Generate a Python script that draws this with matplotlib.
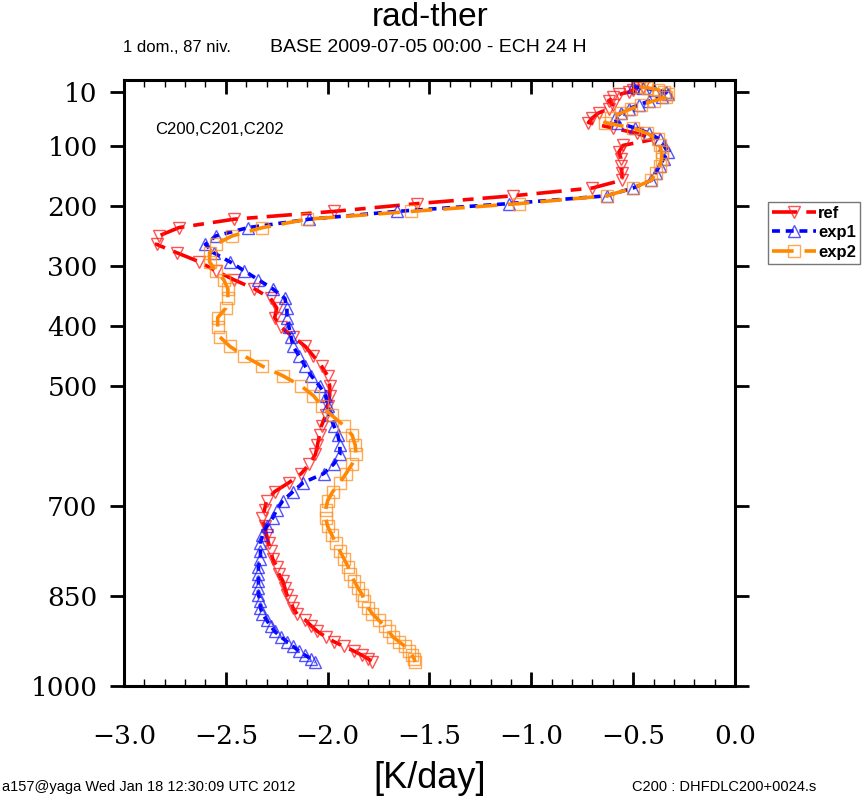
import matplotlib
matplotlib.use("Agg")
import matplotlib.pyplot as plt
from matplotlib.ticker import MultipleLocator, FixedLocator

# ---- data -------------------------------------------------------------
pressure = [1, 3, 6, 10, 14, 19, 25, 31, 38, 45, 53, 61, 70, 79, 89, 99,
            110, 121, 133, 145, 157, 170, 183, 196, 209, 222, 236, 250, 264,
            278, 293, 308, 323, 338, 354, 370, 386, 402, 418, 434, 450, 467,
            483, 500, 516, 533, 549, 566, 582, 598, 614, 630, 646, 661, 676,
            691, 706, 720, 734, 748, 762, 775, 788, 801, 813, 825, 837, 848,
            859, 870, 880, 890, 900, 909, 918, 926, 934, 942, 949, 955, 960]

ref = [-0.45, -0.48, -0.50, -0.52, -0.57, -0.60, -0.62, -0.60, -0.62, -0.67,
       -0.70, -0.72, -0.60, -0.48, -0.40, -0.55, -0.57, -0.56, -0.56, -0.555,
       -0.555, -0.70, -1.09, -1.56, -1.97, -2.46, -2.73, -2.83, -2.84, -2.74,
       -2.63, -2.55, -2.46, -2.36, -2.28, -2.25, -2.26, -2.23, -2.17, -2.11,
       -2.07, -2.03, -2.00, -1.99, -1.99, -2.00, -2.01, -2.03, -2.04, -2.05,
       -2.06, -2.09, -2.13, -2.19, -2.26, -2.30, -2.31, -2.32, -2.31, -2.30,
       -2.29, -2.28, -2.27, -2.25, -2.24, -2.22, -2.21, -2.20, -2.18, -2.17,
       -2.15, -2.11, -2.08, -2.05, -2.01, -1.97, -1.92, -1.87, -1.83, -1.80,
       -1.78]

exp1 = [-0.50, -0.45, -0.40, -0.34, -0.33, -0.36, -0.42, -0.47, -0.52, -0.56,
        -0.59, -0.58, -0.49, -0.42, -0.37, -0.35, -0.33, -0.35, -0.37, -0.39,
        -0.41, -0.50, -0.63, -1.11, -1.66, -2.09, -2.39, -2.55, -2.60, -2.56,
        -2.48, -2.41, -2.34, -2.27, -2.21, -2.20, -2.20, -2.19, -2.18, -2.17,
        -2.14, -2.11, -2.08, -2.04, -2.01, -2.00, -1.99, -1.97, -1.95, -1.94,
        -1.94, -1.97, -2.02, -2.12, -2.17, -2.22, -2.25, -2.27, -2.30, -2.32,
        -2.33, -2.33, -2.33, -2.34, -2.34, -2.34, -2.34, -2.34, -2.33, -2.33,
        -2.32, -2.30, -2.28, -2.26, -2.23, -2.20, -2.17, -2.14, -2.11, -2.08,
        -2.06]

exp2 = [-0.47, -0.43, -0.38, -0.35, -0.33, -0.34, -0.40, -0.46, -0.51, -0.56,
        -0.61, -0.64, -0.50, -0.43, -0.38, -0.37, -0.36, -0.36, -0.37, -0.39,
        -0.41, -0.50, -0.63, -1.06, -1.59, -2.10, -2.32, -2.47, -2.55, -2.58,
        -2.58, -2.55, -2.51, -2.49, -2.49, -2.50, -2.54, -2.54, -2.53, -2.48,
        -2.41, -2.32, -2.22, -2.13, -2.07, -2.03, -1.98, -1.92, -1.88, -1.865,
        -1.86, -1.88, -1.91, -1.94, -1.975, -2.00, -2.01, -2.01, -2.00, -1.98,
        -1.96, -1.94, -1.92, -1.90, -1.89, -1.87, -1.85, -1.83, -1.82, -1.80,
        -1.78, -1.75, -1.72, -1.70, -1.68, -1.65, -1.62, -1.60, -1.585, -1.575,
        -1.57]

series_names = ["ref", "exp1", "exp2"]
y_ticks = [10, 100, 200, 300, 400, 500, 700, 850, 1000]
x_ticks = [-3.0, -2.5, -2.0, -1.5, -1.0, -0.5, 0.0]

# ---- figure -----------------------------------------------------------
W, H = 868, 801
fig = plt.figure(figsize=(W / 100, H / 100), dpi=100)
ax = fig.add_axes([124 / W, 1 - 686 / H, (735 - 124) / W, (686 - 80) / H])

styles = [
    dict(color="#ff0000", marker="v", dashes=(7, 2.5, 3, 2.5), mec=(1, 0.1, 0.1, 0.75)),
    dict(color="#0000ff", marker="^", dashes=(2.2, 1.6), mec=(0.1, 0.1, 1, 0.75)),
    dict(color="#ff8800", marker="s", dashes=(6, 3), mec=(1, 0.55, 0.1, 0.75)),
]
handles = []
for name, vals, st in zip(series_names, [ref, exp1, exp2], styles):
    h, = ax.plot(vals, pressure, color=st["color"], lw=2.6,
                 dashes=st["dashes"], marker=st["marker"], ms=8,
                 mfc="none", mec=st["mec"], mew=1.0, label=name)
    handles.append(h)

ax.set_xlim(-3.0, 0.0)
ax.set_ylim(1000, -10)

serif = "DejaVu Serif"
ax.xaxis.set_major_locator(FixedLocator(x_ticks))
ax.xaxis.set_minor_locator(MultipleLocator(0.1))
ax.set_xticklabels(["\u22123.0", "\u22122.5", "\u22122.0", "\u22121.5",
                    "\u22121.0", "\u22120.5", "0.0"],
                   fontfamily=serif, fontsize=19)
ax.yaxis.set_major_locator(FixedLocator(y_ticks))
ax.set_yticklabels([str(v) for v in y_ticks], fontfamily=serif, fontsize=19)

ax.tick_params(axis="x", which="major", direction="in", length=10, width=2,
               top=True, bottom=True, pad=27)
ax.tick_params(axis="x", which="minor", direction="in", length=5, width=1,
               top=True, bottom=True)
ax.tick_params(axis="y", which="major", direction="out", length=10, width=2,
               left=True, right=True, pad=9)
for s in ax.spines.values():
    s.set_linewidth(2.2)

# ---- texts ------------------------------------------------------------
sans = "Liberation Sans"
fig.text(430 / W, 1 - 18 / H, "rad-ther", ha="center", va="center",
         fontsize=24, fontfamily=sans)
fig.text(123 / W, 1 - 47 / H, "1 dom., 87 niv.", ha="left", va="center",
         fontsize=12, fontfamily=sans)
fig.text(428 / W, 1 - 47 / H, "BASE 2009-07-05 00:00 - ECH 24 H", ha="center",
         va="center", fontsize=14, fontfamily=sans)
ax.text(155 / W, 1 - 129 / H, "C200,C201,C202", transform=fig.transFigure,
        ha="left", va="center", fontsize=12, fontfamily=sans)
fig.text(430 / W, 1 - 778 / H, "[K/day]", ha="center", va="center",
         fontsize=26, fontfamily=sans)
fig.text(2 / W, 1 - 787 / H, "a157@yaga Wed Jan 18 12:30:09 UTC 2012",
         ha="left", va="center", fontsize=10.5, fontfamily=sans)
fig.text(632 / W, 1 - 787 / H, "C200 : DHFDLC200+0024.s", ha="left",
         va="center", fontsize=10.5, fontfamily=sans)

leg = fig.legend(handles=handles, loc="upper left",
                 bbox_to_anchor=(768 / W, 1 - 202 / H),
                 prop=dict(family=sans, size=12, weight="bold"),
                 frameon=True, fancybox=False, handlelength=2.6,
                 handletextpad=0.15, borderpad=0.25, labelspacing=0.25,
                 borderaxespad=0)
leg.get_frame().set_edgecolor("#555555")
leg.get_frame().set_linewidth(1.0)

fig.savefig("out.png", dpi=100)
